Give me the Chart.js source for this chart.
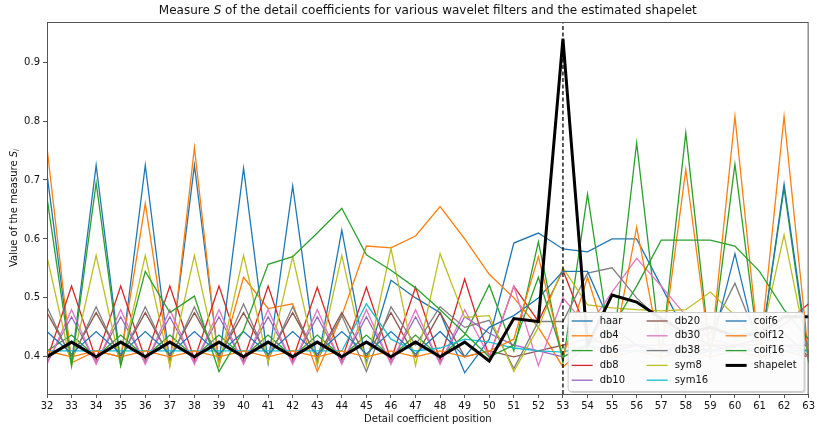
<!DOCTYPE html>
<html>
<head>
<meta charset="utf-8">
<script src="https://cdn.jsdelivr.net/npm/chart.js@4.4.1/dist/chart.umd.min.js"></script>
<style>
  html, body { margin: 0; padding: 0; background: #fff; }
</style>
</head>
<body>
<canvas id="measureChart" width="817" height="430"></canvas>
<script>
// detail coefficient positions (x axis)
var positions = [32, 33, 34, 35, 36, 37, 38, 39, 40, 41, 42, 43, 44, 45, 46, 47,
                 48, 49, 50, 51, 52, 53, 54, 55, 56, 57, 58, 59, 60, 61, 62, 63];

// measure S for every filter, one value per position
var haar = [0.71, 0.39, 0.725, 0.39, 0.725, 0.39, 0.725, 0.39, 0.72, 0.39, 0.69, 0.387, 0.615, 0.39, 0.53, 0.50,
            0.475, 0.373, 0.43, 0.593, 0.61, 0.583, 0.578, 0.60, 0.60, 0.52, 0.44, 0.42, 0.41, 0.40, 0.41, 0.40];
var db4 = [0.755, 0.39, 0.41, 0.40, 0.66, 0.385, 0.755, 0.385, 0.535, 0.482, 0.49, 0.375, 0.47, 0.588, 0.585, 0.605,
           0.655, 0.60, 0.54, 0.50, 0.45, 0.383, 0.42, 0.40, 0.41, 0.40, 0.41, 0.40, 0.41, 0.40, 0.41, 0.40];
var db6 = [0.41, 0.437, 0.40, 0.437, 0.40, 0.437, 0.40, 0.437, 0.40, 0.437, 0.40, 0.437, 0.40, 0.437, 0.40, 0.437,
           0.40, 0.437, 0.522, 0.41, 0.595, 0.39, 0.676, 0.40, 0.763, 0.40, 0.78, 0.40, 0.727, 0.40, 0.686, 0.39];
var db8 = [0.395, 0.52, 0.395, 0.52, 0.395, 0.52, 0.395, 0.52, 0.395, 0.52, 0.395, 0.518, 0.395, 0.518, 0.395, 0.518,
           0.395, 0.532, 0.40, 0.52, 0.46, 0.547, 0.44, 0.41, 0.42, 0.41, 0.42, 0.41, 0.42, 0.43, 0.455, 0.49];
var db10 = [0.39, 0.468, 0.39, 0.468, 0.39, 0.468, 0.39, 0.468, 0.39, 0.468, 0.39, 0.468, 0.39, 0.468, 0.39, 0.468,
            0.39, 0.468, 0.44, 0.42, 0.41, 0.40, 0.42, 0.41, 0.42, 0.41, 0.42, 0.41, 0.42, 0.41, 0.42, 0.41];
var db20 = [0.475, 0.40, 0.475, 0.40, 0.475, 0.40, 0.475, 0.40, 0.475, 0.40, 0.475, 0.40, 0.475, 0.40, 0.475, 0.40,
            0.475, 0.40, 0.41, 0.40, 0.41, 0.42, 0.43, 0.42, 0.42, 0.42, 0.42, 0.42, 0.42, 0.42, 0.42, 0.42];
var db30 = [0.387, 0.48, 0.387, 0.48, 0.387, 0.48, 0.387, 0.48, 0.387, 0.48, 0.387, 0.48, 0.387, 0.48, 0.387, 0.48,
            0.387, 0.48, 0.40, 0.52, 0.385, 0.50, 0.45, 0.51, 0.567, 0.52, 0.47, 0.43, 0.42, 0.41, 0.42, 0.40];
var db38 = [0.485, 0.395, 0.485, 0.395, 0.485, 0.395, 0.485, 0.395, 0.49, 0.395, 0.485, 0.395, 0.47, 0.375, 0.485, 0.42,
            0.485, 0.45, 0.462, 0.38, 0.46, 0.46, 0.542, 0.551, 0.50, 0.46, 0.43, 0.44, 0.525, 0.42, 0.44, 0.40];
var sym8 = [0.57, 0.385, 0.572, 0.385, 0.572, 0.385, 0.572, 0.385, 0.572, 0.39, 0.57, 0.385, 0.572, 0.385, 0.584, 0.385,
            0.575, 0.467, 0.47, 0.375, 0.45, 0.551, 0.488, 0.483, 0.48, 0.478, 0.48, 0.51, 0.47, 0.42, 0.607, 0.40];
var sym16 = [0.41, 0.41, 0.41, 0.41, 0.41, 0.41, 0.41, 0.41, 0.41, 0.41, 0.41, 0.41, 0.41, 0.49, 0.43, 0.41,
             0.415, 0.43, 0.425, 0.415, 0.41, 0.408, 0.42, 0.41, 0.41, 0.41, 0.41, 0.41, 0.41, 0.41, 0.41, 0.41];
var coif6 = [0.443, 0.405, 0.443, 0.405, 0.443, 0.405, 0.443, 0.405, 0.443, 0.405, 0.443, 0.405, 0.443, 0.405, 0.443, 0.405,
             0.443, 0.40, 0.45, 0.47, 0.50, 0.545, 0.545, 0.45, 0.42, 0.41, 0.40, 0.41, 0.575, 0.40, 0.693, 0.40];
var coif12 = [0.41, 0.40, 0.41, 0.40, 0.41, 0.40, 0.41, 0.40, 0.41, 0.40, 0.41, 0.40, 0.41, 0.40, 0.41, 0.40,
              0.41, 0.40, 0.41, 0.43, 0.57, 0.40, 0.535, 0.40, 0.62, 0.40, 0.718, 0.40, 0.808, 0.40, 0.808, 0.40];
var coif16 = [0.67, 0.385, 0.695, 0.385, 0.545, 0.475, 0.503, 0.375, 0.445, 0.557, 0.57, 0.61, 0.652, 0.573, 0.547, 0.517,
              0.48, 0.44, 0.40, 0.42, 0.535, 0.40, 0.42, 0.45, 0.52, 0.598, 0.598, 0.598, 0.588, 0.545, 0.48, 0.43];
var shapelet = [0.40, 0.425, 0.40, 0.425, 0.40, 0.425, 0.40, 0.425, 0.40, 0.425, 0.40, 0.425, 0.40, 0.425, 0.40, 0.425,
                0.40, 0.425, 0.393, 0.465, 0.46, 0.94, 0.42, 0.505, 0.493, 0.465, 0.44, 0.45, 0.435, 0.44, 0.468, 0.468];

var yTicks = [0.4, 0.5, 0.6, 0.7, 0.8, 0.9];
var yMin = 0.337, yMax = 0.968;
var markedPosition = 53;

var series = [
  ['haar', haar, '#1f77b4'], ['db4', db4, '#ff7f0e'], ['db6', db6, '#2ca02c'],
  ['db8', db8, '#d62728'], ['db10', db10, '#9467bd'], ['db20', db20, '#8c564b'],
  ['db30', db30, '#e377c2'], ['db38', db38, '#7f7f7f'], ['sym8', sym8, '#bcbd22'],
  ['sym16', sym16, '#17becf'], ['coif6', coif6, '#1f77b4'], ['coif12', coif12, '#ff7f0e'],
  ['coif16', coif16, '#2ca02c'], ['shapelet', shapelet, '#000000']
];

var FONT = '"DejaVu Sans", sans-serif';

var datasets = series.map(function (s, i) {
  return {
    label: s[0],
    data: positions.map(function (p, k) { return { x: p, y: s[1][k] }; }),
    borderColor: s[2],
    backgroundColor: s[2],
    borderWidth: s[0] === 'shapelet' ? 3 : 1.3,
    order: series.length - i + 1
  };
});

// dashed vertical marker at the detected position
datasets.push({
  label: '',
  data: [{ x: markedPosition, y: yMin }, { x: markedPosition, y: yMax }],
  borderColor: '#000',
  borderWidth: 1.3,
  borderDash: [4, 2.5],
  order: 0
});

function drawParts(ctx, parts, x, y) {
  var total = 0;
  parts.forEach(function (p) {
    ctx.font = (p.italic ? 'italic ' : '') + p.size + 'px ' + FONT;
    p.w = ctx.measureText(p.text).width;
    total += p.w;
  });
  var cx = x - total / 2;
  parts.forEach(function (p) {
    ctx.font = (p.italic ? 'italic ' : '') + p.size + 'px ' + FONT;
    ctx.fillText(p.text, cx, y + (p.dy || 0));
    cx += p.w;
  });
}

var decorations = {
  id: 'decorations',
  afterDraw: function (chart) {
    var ctx = chart.ctx, a = chart.chartArea;
    ctx.save();

    // frame around the plot
    ctx.strokeStyle = '#555';
    ctx.lineWidth = 1;
    ctx.strokeRect(a.left + 0.5, a.top + 0.5, a.right - a.left - 1, a.bottom - a.top);

    ctx.fillStyle = '#111';
    ctx.textBaseline = 'middle';
    ctx.textAlign = 'left';

    // title
    drawParts(ctx, [
      { text: 'Measure ', size: 12 },
      { text: 'S', size: 12, italic: true },
      { text: ' of the detail coefficients for various wavelet filters and the estimated shapelet', size: 12 }
    ], (a.left + a.right) / 2, 11);

    // x axis title
    drawParts(ctx, [{ text: 'Detail coefficient position', size: 10 }], (a.left + a.right) / 2, 419);

    // y axis title
    ctx.save();
    ctx.translate(14, (a.top + a.bottom) / 2);
    ctx.rotate(-Math.PI / 2);
    drawParts(ctx, [
      { text: 'Value of the measure ', size: 10 },
      { text: 'S', size: 10, italic: true },
      { text: 'i', size: 7, italic: true, dy: 3 }
    ], 0, 0);
    ctx.restore();

    // legend, three columns filled top to bottom
    var bw = 236, bh = 79;
    var bx = a.right - 5 - bw, by = a.bottom - 3 - bh;
    ctx.fillStyle = 'rgba(0,0,0,0.18)';
    ctx.beginPath();
    ctx.roundRect(bx + 2, by + 2, bw, bh, 3);
    ctx.fill();
    ctx.fillStyle = 'rgba(255,255,255,0.93)';
    ctx.strokeStyle = '#cccccc';
    ctx.beginPath();
    ctx.roundRect(bx + 0.5, by + 0.5, bw, bh, 3);
    ctx.fill();
    ctx.stroke();

    var colX = [4, 79, 158], rowH = 14.8;
    ctx.font = '10px ' + FONT;
    series.forEach(function (s, i) {
      var col = Math.floor(i / 5), row = i % 5;
      var lx = bx + colX[col], ly = by + 9 + row * rowH;
      ctx.strokeStyle = s[2];
      ctx.lineWidth = s[0] === 'shapelet' ? 3 : 1.3;
      ctx.beginPath();
      ctx.moveTo(lx, ly);
      ctx.lineTo(lx + 21, ly);
      ctx.stroke();
      ctx.fillStyle = '#111';
      ctx.fillText(s[0], lx + 28, ly);
    });

    ctx.restore();
  }
};

new Chart(document.getElementById('measureChart').getContext('2d'), {
  type: 'line',
  data: { datasets: datasets },
  options: {
    responsive: false,
    animation: false,
    layout: { padding: { left: 0, right: 6, top: 22, bottom: 0 } },
    plugins: { legend: { display: false }, tooltip: { enabled: false } },
    elements: { point: { radius: 0 }, line: { tension: 0 } },
    scales: {
      x: {
        type: 'linear',
        min: positions[0],
        max: positions[positions.length - 1],
        afterBuildTicks: function (scale) {
          scale.ticks = positions.map(function (p) { return { value: p }; });
        },
        afterFit: function (scale) { scale.height = 36; },
        ticks: { autoSkip: false, maxRotation: 0, padding: 2, color: '#111', font: { family: FONT, size: 10 } },
        grid: { drawOnChartArea: false, drawTicks: true, tickLength: 4, color: '#555' },
        border: { display: false }
      },
      y: {
        min: yMin,
        max: yMax,
        afterBuildTicks: function (scale) {
          scale.ticks = yTicks.map(function (v) { return { value: v }; });
        },
        afterFit: function (scale) { scale.width = 47; },
        ticks: {
          padding: 3, color: '#111', font: { family: FONT, size: 10 },
          callback: function (v) { return v.toFixed(1); }
        },
        grid: { drawOnChartArea: false, drawTicks: true, tickLength: 4, color: '#555' },
        border: { display: false }
      }
    }
  },
  plugins: [decorations]
});
</script>
</body>
</html>
